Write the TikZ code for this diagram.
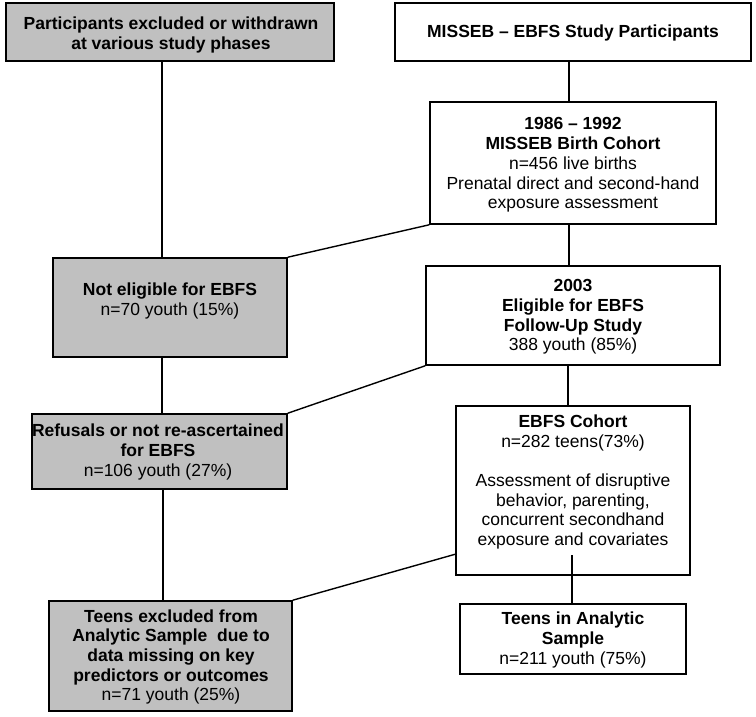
\documentclass[tikz,border=0pt]{standalone}
\usepackage{fontspec}
\setmainfont{Liberation Sans}
\definecolor{boxgray}{RGB}{192,192,192}
\begin{document}
\begin{tikzpicture}[x=1pt,y=-1pt,
  box/.style={draw=black, line width=1.6pt, rectangle, inner sep=0pt},
  graybox/.style={box, fill=boxgray},
  whitebox/.style={box, fill=white},
  txt/.style={align=center, inner sep=0pt, font=\fontsize{17.5}{19.7}\selectfont},
  conn/.style={draw=black, line width=1.4pt}]
\useasboundingbox (0,0) rectangle (756,716);
% boxes
\node[graybox, minimum width=328pt, minimum height=58pt] (a) at (170,32) {};
\node[whitebox, minimum width=356pt, minimum height=58pt] (b) at (573,32) {};
\node[whitebox, minimum width=286pt, minimum height=122pt] (c) at (573,163) {};
\node[graybox, minimum width=234pt, minimum height=99pt] (ne) at (170,307.5) {};
\node[whitebox, minimum width=294pt, minimum height=99pt] (d) at (573,315.5) {};
\node[graybox, minimum width=255pt, minimum height=75pt] (r) at (159.5,451.5) {};
\node[whitebox, minimum width=234pt, minimum height=169pt] (e) at (573,490.5) {};
\node[graybox, minimum width=243pt, minimum height=110pt] (t) at (170.5,656) {};
\node[whitebox, minimum width=226pt, minimum height=70pt] (as) at (573,639) {};
% texts
\node[txt] (a-t) at (171,35) {\textbf{Participants excluded or withdrawn}\\\textbf{at various study phases}};
\node[txt] (b-t) at (573,33) {\textbf{MISSEB – EBFS Study Participants}};
\node[txt] (c-t) at (573,165) {\textbf{1986 – 1992}\\\textbf{MISSEB Birth Cohort}\\n=456 live births\\Prenatal direct and second-hand\\exposure assessment};
\node[txt] (ne-t) at (170,301) {\textbf{Not eligible for EBFS}\\n=70 youth (15\%)};
\node[txt] (d-t) at (573,317) {\textbf{2003}\\\textbf{Eligible for EBFS}\\\textbf{Follow-Up Study}\\388 youth (85\%)};
\node[txt] (r-t) at (158,452) {\textbf{Refusals or not re-ascertained}\\\textbf{for EBFS}\\n=106 youth (27\%)};
\node[txt] (e-t) at (573,482) {\textbf{EBFS Cohort}\\n=282 teens(73\%)\\[19.7pt]Assessment of disruptive\\behavior, parenting,\\concurrent secondhand\\exposure and covariates};
\node[txt] (t-t) at (171,657) {\textbf{Teens excluded from}\\\textbf{Analytic Sample~ due to}\\\textbf{data missing on key}\\\textbf{predictors or outcomes}\\n=71 youth (25\%)};
\node[txt] (as-t) at (573,640) {\textbf{Teens in Analytic}\\\textbf{Sample}\\n=211 youth (75\%)};
% connector helper coordinates
\coordinate (e-l) at (456,554);
\coordinate (e-in) at (572,555);
% connectors
\draw[conn] (a.south -| 162,0) -- (ne.north -| 162,0);
\draw[conn] (ne.south -| 162,0) -- (r.north -| 162,0);
\draw[conn] (r.south -| 163,0) -- (t.north -| 163,0);
\draw[conn] (b.south -| 569,0) -- (c.north -| 569,0);
\draw[conn] (c.south -| 569,0) -- (d.north -| 569,0);
\draw[conn] (d.south -| 568,0) -- (e.north -| 568,0);
\draw[conn] (e-in) -- (as.north -| e-in);
\draw[conn] (c.south west) -- (ne.north east);
\draw[conn] (d.south west) -- (r.north east);
\draw[conn] (e-l) -- (t.north east);
\end{tikzpicture}
\end{document}
